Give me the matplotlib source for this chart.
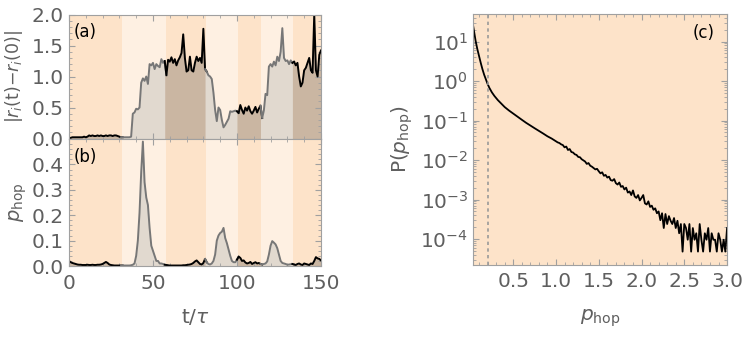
import numpy as np
import matplotlib.pyplot as plt

plt.rcParams['font.family'] = 'DejaVu Sans'
plt.rcParams['mathtext.fontset'] = 'dejavusans'

# time grid of panels (a) and (b)
t = np.arange(0, 151)

# displacement |r_i(t) - r_i(0)|
disp = [0.01, 0.01, 0.02, 0.02, 0.02, 0.02, 0.02, 0.02, 0.02, 0.03, 0.02, 0.03,
        0.05, 0.04, 0.05, 0.04, 0.04, 0.05, 0.04, 0.05, 0.04, 0.04, 0.05, 0.04,
        0.05, 0.05, 0.04, 0.05, 0.05, 0.04, 0.03,
        0.02, 0.02, 0.02, 0.02, 0.02, 0.02, 0.03,
        0.40, 0.42, 0.48, 0.47, 0.50, 0.90, 0.97, 0.93, 1.00, 0.88, 1.20, 1.18,
        1.22, 1.12, 1.20, 1.17, 1.15, 1.28, 1.22, 1.25,
        1.02, 1.27, 1.24, 1.31, 1.22, 1.28, 1.18, 1.26, 1.31, 1.38, 1.68, 1.30,
        1.08, 1.10, 1.32, 1.10, 1.08, 1.22, 1.32, 1.25, 1.30, 1.22, 1.77, 1.12,
        1.08, 1.02, 1.00, 0.96, 0.74, 0.46, 0.28, 0.50, 0.46, 0.30, 0.18, 0.22,
        0.27, 0.32, 0.44, 0.43, 0.44, 0.45, 0.44,
        0.41, 0.54, 0.46, 0.40, 0.50, 0.45, 0.52, 0.44, 0.40, 0.45, 0.51, 0.42,
        0.48, 0.53,
        0.33, 0.45, 0.72, 0.70, 1.16, 1.20, 1.16, 1.24, 1.18, 1.32, 1.25, 1.40,
        1.78, 1.30, 1.25, 1.26, 1.20, 1.26, 1.22,
        1.24, 1.18, 1.22, 1.00, 0.84, 0.90, 1.10, 1.14, 1.22, 1.30, 1.10, 1.06,
        2.00, 1.10, 1.00, 1.35, 1.42]

# hopping indicator p_hop(t)
phop = [0.020, 0.015, 0.012, 0.010, 0.008, 0.006, 0.005, 0.005, 0.004, 0.004,
        0.004, 0.005, 0.004, 0.004, 0.005, 0.004, 0.004, 0.005, 0.005, 0.006,
        0.008, 0.012, 0.016, 0.012, 0.006, 0.004, 0.003, 0.002, 0.002, 0.002,
        0.002, 0.002, 0.002, 0.002, 0.002, 0.002, 0.002, 0.003, 0.005,
        0.010, 0.040, 0.100, 0.210, 0.370, 0.490, 0.330, 0.270, 0.240, 0.150,
        0.080, 0.060, 0.040, 0.020, 0.020, 0.010, 0.010, 0.008, 0.005, 0.004,
        0.003, 0.002, 0.002, 0.002, 0.002, 0.002, 0.002, 0.002, 0.002, 0.003,
        0.003, 0.004, 0.005, 0.006, 0.008, 0.012,
        0.018, 0.022, 0.015, 0.008, 0.006, 0.012, 0.028, 0.015, 0.008, 0.006,
        0.010, 0.020, 0.045, 0.100, 0.120, 0.130, 0.135, 0.150, 0.110, 0.090,
        0.065, 0.040, 0.020, 0.015, 0.015, 0.025, 0.037, 0.032, 0.020, 0.022,
        0.014, 0.010, 0.012, 0.016, 0.008, 0.012, 0.015, 0.010, 0.012, 0.008,
        0.006, 0.008, 0.010, 0.018, 0.045, 0.080, 0.098, 0.092, 0.085, 0.070,
        0.045, 0.020, 0.012, 0.010, 0.008, 0.005, 0.006, 0.007, 0.008, 0.006,
        0.004, 0.008, 0.010, 0.006, 0.004, 0.010, 0.008, 0.006, 0.004, 0.010,
        0.008, 0.020, 0.035, 0.030, 0.028, 0.022]

# band edges: even bands = no hop (dark), odd = hopping (light)
edges = [0, 31.5, 57.7, 81.5, 100.6, 114.3, 133.3, 150]

# distribution P(p_hop)
p_x = [0.03, 0.04, 0.05, 0.06, 0.08, 0.10, 0.12, 0.14, 0.16, 0.18, 0.20, 0.22,
       0.25, 0.28, 0.32, 0.36, 0.40, 0.45, 0.50, 0.55, 0.60, 0.65, 0.70, 0.75,
       0.80, 0.85, 0.90, 0.95,
       1.00, 1.02, 1.04, 1.06, 1.08, 1.10, 1.12, 1.14, 1.16, 1.18,
       1.20, 1.22, 1.24, 1.26, 1.28, 1.30, 1.32, 1.34, 1.36, 1.38,
       1.40, 1.42, 1.44, 1.46, 1.48, 1.50, 1.52, 1.54, 1.56, 1.58,
       1.60, 1.62, 1.64, 1.66, 1.68, 1.70, 1.72, 1.74, 1.76, 1.78,
       1.80, 1.82, 1.84, 1.86, 1.88, 1.90, 1.92, 1.94, 1.96, 1.98,
       2.00, 2.02, 2.04, 2.06, 2.08, 2.10, 2.12, 2.14, 2.16, 2.18,
       2.20, 2.22, 2.24, 2.26, 2.28, 2.30, 2.32, 2.34, 2.36, 2.38,
       2.40, 2.42, 2.44, 2.46, 2.48, 2.50, 2.52, 2.54, 2.56, 2.58,
       2.60, 2.62, 2.64, 2.66, 2.68, 2.70, 2.72, 2.74, 2.76, 2.78,
       2.80, 2.82, 2.84, 2.86, 2.88, 2.90, 2.92, 2.94, 2.96, 2.98, 3.00]
p_y = [26, 19, 14, 10.5, 6.5, 4.3, 2.9, 2.0, 1.45, 1.1, 0.85, 0.68,
       0.52, 0.42, 0.33, 0.27, 0.22, 0.18, 0.15, 0.125, 0.105, 0.088, 0.075, 0.064,
       0.055, 0.047, 0.040, 0.035,
       0.030, 0.028, 0.027, 0.025, 0.024, 0.021, 0.022, 0.018, 0.019, 0.016,
       0.0155, 0.014, 0.0135, 0.012, 0.0118, 0.0105, 0.0098, 0.0092, 0.0080, 0.0084,
       0.0072, 0.0068, 0.0063, 0.0058, 0.0060, 0.0052, 0.0046, 0.0049, 0.0040, 0.0042,
       0.0036, 0.0038, 0.0031, 0.0030, 0.0033, 0.0026, 0.0024, 0.0027, 0.0021, 0.0022,
       0.0018, 0.0020, 0.0015, 0.0016, 0.0013, 0.0017, 0.0012, 0.0011, 0.0013, 0.00095,
       0.0011, 0.0013, 0.0008, 0.00075, 0.0009, 0.00065, 0.0007, 0.00055, 0.0006, 0.00045,
       0.0005, 0.0003, 0.00045, 0.00019, 0.00043, 0.00024, 0.00038, 0.00029, 0.00024, 0.00034,
       0.00019, 0.00029, 0.00014, 0.00024, 0.000048, 0.00024, 0.00019, 0.000096, 0.00024, 0.000048,
       0.00019, 0.000096, 0.00014, 0.000048, 0.00024, 0.000096, 0.000048, 0.00014, 0.000096, 0.00019,
       0.000048, 0.00014, 0.000096, 0.000096, 0.000048, 0.00014, 0.000096, 0.000048, 0.000096,
       0.000048, 0.00019]
p_cut = 0.2

dark_bg = '#fde3c9'
light_bg = '#fef0e2'
dark_fill = '#cab6a2'
light_fill = '#e1d9cf'
txt = '#5f5f5f'
frame = '#a0a0a0'


def style(ax):
    for s in ax.spines.values():
        s.set_color(frame)
        s.set_linewidth(0.8)
    ax.tick_params(which='both', direction='in', colors=frame, labelcolor=txt,
                   labelsize=14.5, top=True, right=True)
    ax.tick_params(which='major', length=4)
    ax.tick_params(which='minor', length=2)
    ax.tick_params(axis='x', pad=6)


def band_panel(ax, y):
    y = np.asarray(y)
    for k in range(len(edges) - 1):
        lo, hi = edges[k], edges[k + 1]
        hop = k % 2 == 1
        ax.axvspan(lo, hi, color=light_bg if hop else dark_bg, lw=0, zorder=0)
        m = (t >= np.floor(lo)) & (t <= np.ceil(hi))
        ax.fill_between(t[m], 0, y[m], color=light_fill if hop else dark_fill,
                        lw=0, zorder=1)
        ax.plot(t[m], y[m], color='#777777' if hop else 'black', lw=1.4, zorder=2)
    ax.set_xlim(0, 150)
    ax.set_xticks([0, 50, 100, 150])
    ax.set_xticks(np.arange(0, 151, 10), minor=True)
    style(ax)


fig = plt.figure(figsize=(7.48, 3.40), dpi=100)
ax_a = fig.add_axes([0.0922, 0.5926, 0.3369, 0.3647])
ax_b = fig.add_axes([0.0922, 0.2176, 0.3369, 0.3735])
ax_c = fig.add_axes([0.6324, 0.2206, 0.3396, 0.7382])

band_panel(ax_a, disp)
ax_a.set_ylim(0, 2.0)
ax_a.set_yticks([0, 0.5, 1.0, 1.5, 2.0])
ax_a.set_yticklabels(['0.0', '0.5', '1.0', '1.5', '2.0'])
ax_a.set_yticks(np.arange(0, 2.01, 0.1), minor=True)
ax_a.set_xticklabels([])
ax_a.set_ylabel('|$r_i$(t)−$r_i$(0)|', fontsize=12.5, color=txt, labelpad=5)
ax_a.text(0.02, 0.93, '(a)', transform=ax_a.transAxes, fontsize=12, va='top')

band_panel(ax_b, phop)
ax_b.set_ylim(0, 0.5)
ax_b.set_yticks([0, 0.1, 0.2, 0.3, 0.4])
ax_b.set_yticklabels(['0.0', '0.1', '0.2', '0.3', '0.4'])
ax_b.set_yticks(np.arange(0, 0.5, 0.02), minor=True)
ax_b.set_ylabel(r'$p_{\mathrm{hop}}$', fontsize=14, color=txt, labelpad=2)
ax_b.set_xlabel(r't/$\tau$', fontsize=14.5, color=txt, labelpad=10)
ax_b.text(0.02, 0.93, '(b)', transform=ax_b.transAxes, fontsize=12, va='top')

ax_c.set_facecolor(dark_bg)
ax_c.plot(p_x, p_y, color='black', lw=1.3)
ax_c.axvline(p_cut, color='#9a9a9a', ls=(0, (2, 2)), lw=1.2)
ax_c.set_yscale('log')
ax_c.set_xlim(0.03, 3.0)
ax_c.set_ylim(2.2e-5, 50)
ax_c.set_xticks([0.5, 1.0, 1.5, 2.0, 2.5, 3.0])
ax_c.set_xticklabels(['0.5', '1.0', '1.5', '2.0', '2.5', '3.0'])
ax_c.set_xticks(np.arange(0.1, 3.0, 0.1), minor=True)
ax_c.set_yticks([1e-4, 1e-3, 1e-2, 1e-1, 1, 10])
style(ax_c)
ax_c.tick_params(axis='x', pad=5)
ax_c.set_xlabel(r'$p_{\mathrm{hop}}$', fontsize=14.5, color=txt, labelpad=12)
ax_c.set_ylabel(r'P($p_{\mathrm{hop}}$)', fontsize=14.5, color=txt)
ax_c.text(0.95, 0.96, '(c)', transform=ax_c.transAxes, fontsize=12,
          ha='right', va='top')

fig.savefig('out.png', dpi=100)
